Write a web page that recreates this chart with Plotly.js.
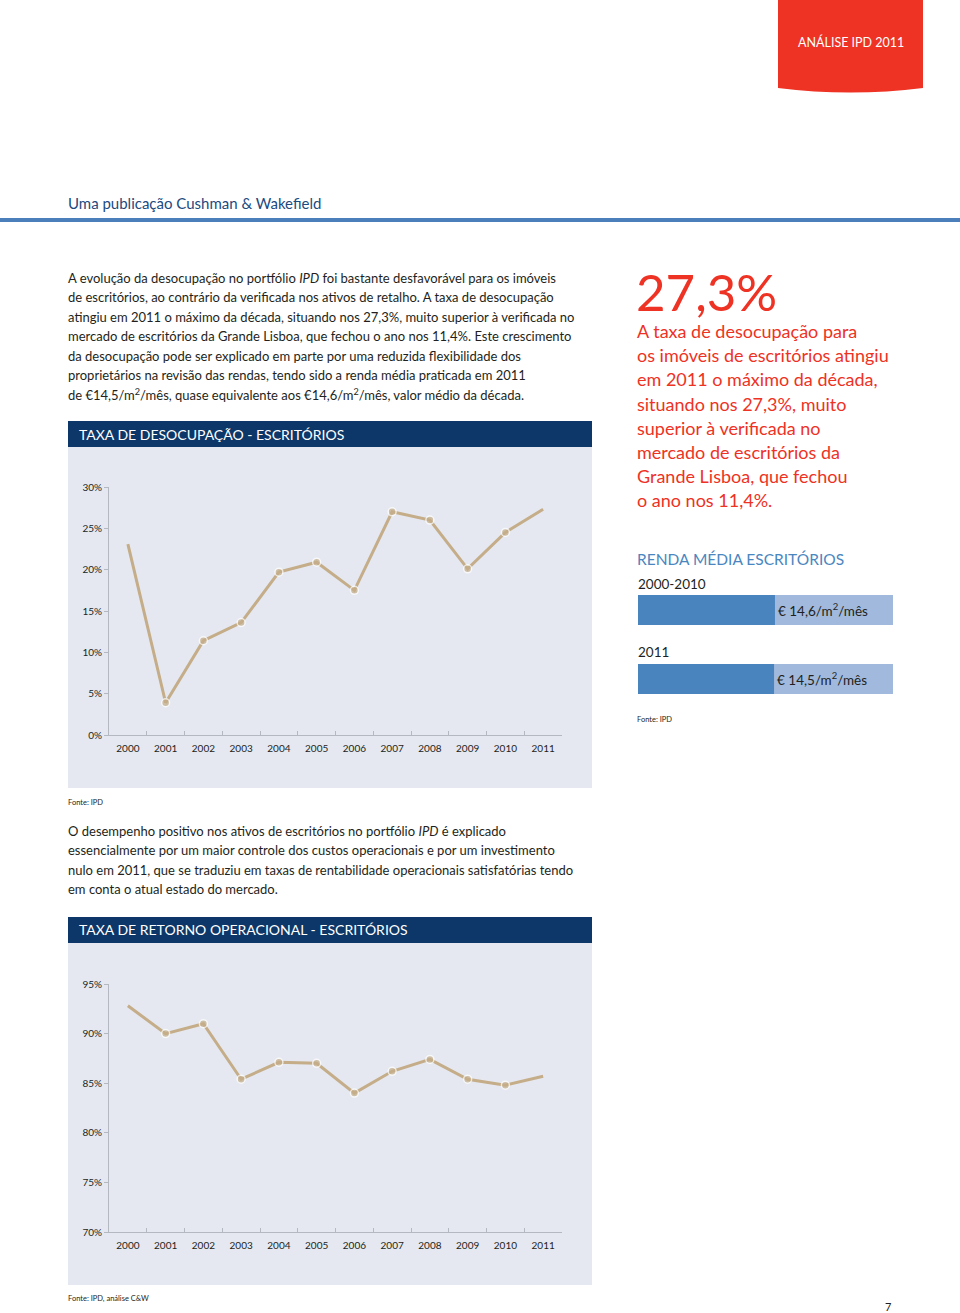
<!DOCTYPE html>
<html>
<head>
<meta charset="utf-8">
<script src="https://cdn.plot.ly/plotly-3.0.1.min.js"></script>
<style>html,body{margin:0;padding:0;background:#fff;}#chart{width:960px;height:1313px;}</style>
</head>
<body>
<div id="chart"></div>
<script>
// ---- data ----
const years = ['2000','2001','2002','2003','2004','2005','2006','2007','2008','2009','2010','2011'];
const vacancy = [23.1, 3.9, 11.4, 13.6, 19.7, 20.9, 17.5, 27.0, 26.0, 20.1, 24.5, 27.3];
const opReturn = [92.8, 90.0, 91.0, 85.4, 87.1, 87.0, 84.0, 86.2, 87.4, 85.4, 84.8, 85.7];
const rentPeriods = ['2000-2010', '2011'];
const rentValues = [14.6, 14.5];

const chart1Title = 'TAXA DE DESOCUPAÇÃO - ESCRITÓRIOS';
const chart2Title = 'TAXA DE RETORNO OPERACIONAL - ESCRITÓRIOS';
const rentTitle = 'RENDA MÉDIA ESCRITÓRIOS';

const para1 = [
  'A evolução da desocupação no portfólio <i>IPD</i> foi bastante desfavorável para os imóveis',
  'de escritórios, ao contrário da verificada nos ativos de retalho. A taxa de desocupação',
  'atingiu em 2011 o máximo da década, situando nos 27,3%, muito superior à verificada no',
  'mercado de escritórios da Grande Lisboa, que fechou o ano nos 11,4%. Este crescimento',
  'da desocupação pode ser explicado em parte por uma reduzida flexibilidade dos',
  'proprietários na revisão das rendas, tendo sido a renda média praticada em 2011',
  'de €14,5/m<sup>2</sup>/mês, quase equivalente aos €14,6/m<sup>2</sup>/mês, valor médio da década.'
];
const para2 = [
  'O desempenho positivo nos ativos de escritórios no portfólio <i>IPD</i> é explicado',
  'essencialmente por um maior controle dos custos operacionais e por um investimento',
  'nulo em 2011, que se traduziu em taxas de rentabilidade operacionais satisfatórias tendo',
  'em conta o atual estado do mercado.'
];
const highlight = [
  'A taxa de desocupação para',
  'os imóveis de escritórios atingiu',
  'em 2011 o máximo da década,',
  'situando nos 27,3%, muito',
  'superior à verificada no',
  'mercado de escritórios da',
  'Grande Lisboa, que fechou',
  'o ano nos 11,4%.'
];

// ---- helpers ----
const W = 960, H = 1313;
const px = x => x / W;
const py = y => 1 - y / H;
const FONT = 'Lato, "Open Sans", sans-serif';
const LINE = '#c4ad88';
const PANEL = '#e5e8f0';
const NAVY = '#0d3768';
const RED = '#ee3224';
const AXIS = '#b4b8c0';

const annotations = [];
function txt(x, y, text, size, color, extra) {
  annotations.push(Object.assign({
    xref: 'paper', yref: 'paper', x: px(x - 2), y: py(y), text: text,
    showarrow: false, xanchor: 'left', yanchor: 'middle',
    font: {family: FONT, size: size, color: color}
  }, extra || {}));
}

// header
txt(852.5, 42, 'ANÁLISE IPD 2011', 12.5, '#ffffff', {xanchor: 'center'});
txt(68, 203, 'Uma publicação Cushman & Wakefield', 15, '#1c4a7e');
// paragraph 1
para1.forEach((l, i) => txt(68, 278 + i * 19.4, l, 13, '#231f20'));
// big highlight
txt(636, 291, '27,3%', 51, RED);
highlight.forEach((l, i) => txt(637, 331 + i * 24.2, l, 18, RED));
// rent block
txt(637, 559, rentTitle, 15.5, '#4a86c0');
txt(638, 584, rentPeriods[0], 13.5, '#231f20');
txt(638, 652, rentPeriods[1], 13.5, '#231f20');
txt(637, 719, 'Fonte: IPD', 7.5, '#231f20');
// chart headers
txt(79, 434, chart1Title, 14, '#ffffff');
txt(79, 930, chart2Title, 14, '#ffffff');
txt(68, 802, 'Fonte: IPD', 7.5, '#231f20');
para2.forEach((l, i) => txt(68, 831 + i * 19.4, l, 13, '#231f20'));
txt(68, 1298, 'Fonte: IPD, análise C&W', 7.5, '#231f20');
txt(890, 1306, '7', 11, '#231f20', {xanchor: 'center'});

function rect(x0, y0, x1, y1, color) {
  return {type: 'rect', xref: 'paper', yref: 'paper', x0: px(x0), x1: px(x1), y0: py(y1), y1: py(y0),
    fillcolor: color, line: {width: 0}, layer: 'below'};
}
const tab = 'M ' + px(778) + ' ' + py(0) + ' L ' + px(923) + ' ' + py(0) + ' L ' + px(923) + ' ' + py(88) +
  ' Q ' + px(850.5) + ' ' + py(97) + ' ' + px(778) + ' ' + py(88) + ' Z';
const shapes = [
  {type: 'path', xref: 'paper', yref: 'paper', path: tab, fillcolor: RED, line: {width: 0}, layer: 'below'},
  rect(0, 218, 960, 222, '#4a7fbb'),
  rect(68, 421, 592, 788, PANEL),
  rect(68, 421, 592, 447, NAVY),
  rect(68, 917, 592, 1285, PANEL),
  rect(68, 917, 592, 943, NAVY),
  rect(638, 595, 893, 625, '#a0b9dc'),
  rect(638, 664, 893, 694, '#a0b9dc')
];

const markerSizes = years.map((_, i) => (i === 0 || i === years.length - 1) ? 0 : 8);
function lineTrace(y, xa, ya) {
  return {
    type: 'scatter', mode: 'lines+markers', x: years, y: y, xaxis: xa, yaxis: ya,
    line: {color: LINE, width: 3},
    marker: {color: LINE, size: markerSizes, line: {color: '#ffffff', width: 1.5}},
    cliponaxis: false, hoverinfo: 'skip'
  };
}

const traces = [
  lineTrace(vacancy, 'x', 'y'),
  lineTrace(opReturn, 'x2', 'y2'),
  {
    type: 'bar', orientation: 'h', x: rentValues, y: rentPeriods, xaxis: 'x3', yaxis: 'y3',
    marker: {color: '#4a84bf'}, width: 0.435,
    texttemplate: '€ %{x:.1f}/m<sup>2</sup>/mês', textposition: 'outside',
    textfont: {family: FONT, size: 13.5, color: '#231f20'}, cliponaxis: false, hoverinfo: 'skip'
  }
];

const xBase = {
  type: 'category', showgrid: false, zeroline: false, showline: true, linecolor: AXIS, linewidth: 1,
  ticks: 'inside', tickson: 'boundaries', ticklen: 4, tickcolor: AXIS, ticklabelstandoff: 4,
  tickfont: {family: FONT, size: 10, color: '#231f20'}, range: [-0.5, 11.5], fixedrange: true
};
const yBase = {
  showgrid: false, zeroline: false, showline: true, linecolor: AXIS, linewidth: 1,
  ticks: 'outside', ticklen: 4, tickcolor: AXIS, dtick: 5, ticksuffix: '%',
  tickfont: {family: FONT, size: 10, color: '#231f20'}, fixedrange: true
};

const layout = {
  width: W, height: H, margin: {l: 0, r: 0, t: 0, b: 0},
  paper_bgcolor: '#ffffff', plot_bgcolor: 'rgba(0,0,0,0)',
  showlegend: false, separators: ',.',
  font: {family: FONT},
  xaxis: Object.assign({}, xBase, {domain: [px(109), px(562)], anchor: 'y'}),
  yaxis: Object.assign({}, yBase, {domain: [py(735), py(487)], range: [0, 30], anchor: 'x'}),
  xaxis2: Object.assign({}, xBase, {domain: [px(109), px(562)], anchor: 'y2'}),
  yaxis2: Object.assign({}, yBase, {domain: [py(1232), py(984)], range: [70, 95], anchor: 'x2'}),
  xaxis3: {domain: [px(638), px(893)], range: [0, 27.18], visible: false, anchor: 'y3', fixedrange: true},
  yaxis3: {domain: [py(713.5), py(575.5)], type: 'category', range: [1.5, -0.5], visible: false, anchor: 'x3', fixedrange: true},
  shapes: shapes,
  annotations: annotations
};

Plotly.newPlot('chart', traces, layout, {displayModeBar: false, staticPlot: true});
</script>
</body>
</html>
